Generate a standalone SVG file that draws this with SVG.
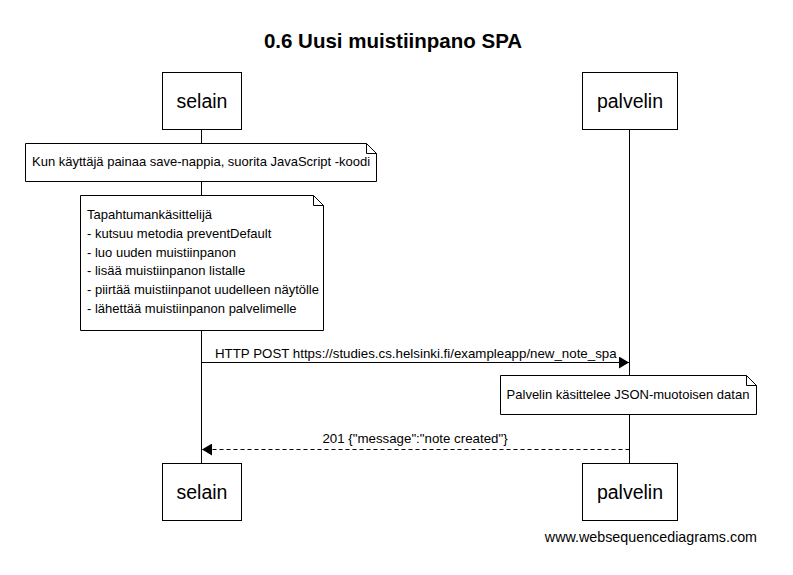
<svg xmlns="http://www.w3.org/2000/svg" width="793" height="575" viewBox="0 0 793 575">
<defs>
<style>
text{font-family:"Liberation Sans",Arial,sans-serif;fill:#000}
.box{fill:#fff;stroke:#000;stroke-width:1}
.life{stroke:#000;stroke-width:1}
.pl{font-size:19.5px;text-anchor:middle}
.note{font-size:13px}
.msg{font-size:13.3px}
</style>
<marker id="ah" markerWidth="10" markerHeight="12" refX="10" refY="6" orient="auto" markerUnits="userSpaceOnUse"><path d="M0,0 L10,6 L0,12 Z" fill="#000"/></marker>
</defs>
<rect width="793" height="575" fill="#fff"/>
<text x="393" y="48" font-size="20.5" font-weight="bold" text-anchor="middle">0.6 Uusi muistiinpano SPA</text>
<g id="lifelines">
<line class="life" x1="201.5" y1="129" x2="201.5" y2="463"/>
<line class="life" x1="629.5" y1="129" x2="629.5" y2="463"/>
</g>
<g id="selain-top"><rect class="box" x="162.5" y="72.5" width="79" height="57"/><text class="pl" x="202" y="108">selain</text></g>
<g id="palvelin-top"><rect class="box" x="582.5" y="72.5" width="95" height="57"/><text class="pl" x="630" y="108">palvelin</text></g>
<g id="note1"><path class="box" d="M25.5,143.5 H366.5 L376.5,153.5 V181.5 H25.5 Z"/><path d="M366.5,143.5 V153.5 H376.5" fill="none" stroke="#000"/><text class="note" x="32" y="166">Kun käyttäjä painaa save-nappia, suorita JavaScript -koodi</text></g>
<g id="note2"><path class="box" d="M80.5,195.5 H313.5 L323.5,205.5 V330.5 H80.5 Z"/><path d="M313.5,195.5 V205.5 H323.5" fill="none" stroke="#000"/>
<text class="note" x="87"><tspan x="87" y="219">Tapahtumankäsittelijä</tspan><tspan x="87" y="238">- kutsuu metodia preventDefault</tspan><tspan x="87" y="257">- luo uuden muistiinpanon</tspan><tspan x="87" y="275">- lisää muistiinpanon listalle</tspan><tspan x="87" y="294">- piirtää muistiinpanot uudelleen näytölle</tspan><tspan x="87" y="313">- lähettää muistiinpanon palvelimelle</tspan></text></g>
<g id="connectors">
<line x1="201.5" y1="362.5" x2="629" y2="362.5" stroke="#000" marker-end="url(#ah)"/>
<text class="msg" x="215" y="358">HTTP POST https://studies.cs.helsinki.fi/exampleapp/new_note_spa</text>
<line x1="629.5" y1="449.5" x2="202" y2="449.5" stroke="#000" stroke-dasharray="4,3" marker-end="url(#ah)"/>
<text class="msg" x="415" y="443" text-anchor="middle">201 {"message":"note created"}</text>
</g>
<g id="note3"><path class="box" d="M500.5,375.5 H746.5 L756.5,385.5 V414.5 H500.5 Z"/><path d="M746.5,375.5 V385.5 H756.5" fill="none" stroke="#000"/><text class="note" x="628" y="399" text-anchor="middle">Palvelin käsittelee JSON-muotoisen datan</text></g>
<g id="selain-bottom"><rect class="box" x="162.5" y="463.5" width="79" height="57"/><text class="pl" x="202" y="499">selain</text></g>
<g id="palvelin-bottom"><rect class="box" x="582.5" y="463.5" width="95" height="57"/><text class="pl" x="630" y="499">palvelin</text></g>
<text x="757" y="542" font-size="14.3" text-anchor="end">www.websequencediagrams.com</text>
</svg>
